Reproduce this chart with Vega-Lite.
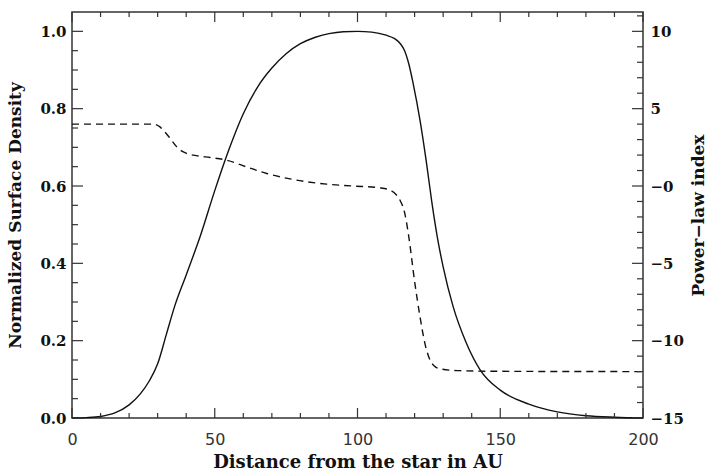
{
  "$schema": "https://vega.github.io/schema/vega-lite/v6.json",
  "width": 571,
  "height": 406,
  "autosize": {"type": "none"},
  "padding": {"left": 72, "top": 12, "right": 63, "bottom": 53},
  "background": "white",
  "config": {
    "view": {"stroke": "#333", "strokeWidth": 1.5},
    "axis": {"domain": false, "grid": false, "ticks": false, "labelFlush": false, "labelOverlap": false, "labelBound": false}
  },
  "datasets": {
    "density": [
      {"x": 0, "d": 0}, {"x": 5, "d": 0.001}, {"x": 10, "d": 0.004}, {"x": 15, "d": 0.013},
      {"x": 20, "d": 0.034}, {"x": 24, "d": 0.063}, {"x": 27, "d": 0.095}, {"x": 30, "d": 0.14},
      {"x": 33, "d": 0.215}, {"x": 36, "d": 0.29}, {"x": 40, "d": 0.37}, {"x": 45, "d": 0.472},
      {"x": 50, "d": 0.588}, {"x": 55, "d": 0.695}, {"x": 60, "d": 0.787}, {"x": 65, "d": 0.856},
      {"x": 70, "d": 0.905}, {"x": 75, "d": 0.942}, {"x": 80, "d": 0.968}, {"x": 85, "d": 0.984},
      {"x": 90, "d": 0.994}, {"x": 95, "d": 0.999}, {"x": 100, "d": 1.0}, {"x": 105, "d": 0.998},
      {"x": 110, "d": 0.99}, {"x": 113, "d": 0.981}, {"x": 115, "d": 0.968}, {"x": 116.5, "d": 0.95},
      {"x": 118, "d": 0.915}, {"x": 119.5, "d": 0.865}, {"x": 121.9, "d": 0.77}, {"x": 124.2, "d": 0.658},
      {"x": 126, "d": 0.56}, {"x": 128, "d": 0.466}, {"x": 130, "d": 0.391}, {"x": 133.5, "d": 0.288},
      {"x": 138, "d": 0.196}, {"x": 143, "d": 0.124}, {"x": 150, "d": 0.072}, {"x": 160, "d": 0.036},
      {"x": 170, "d": 0.016}, {"x": 180, "d": 0.006}, {"x": 190, "d": 0.002}, {"x": 200, "d": 0}
    ],
    "index": [
      {"x": 0, "p": 4.0}, {"x": 28.5, "p": 4.0}, {"x": 30.8, "p": 3.82}, {"x": 32.5, "p": 3.5},
      {"x": 34.3, "p": 3.1}, {"x": 36.7, "p": 2.53}, {"x": 38.5, "p": 2.25}, {"x": 40.2, "p": 2.1},
      {"x": 44, "p": 1.95}, {"x": 48.4, "p": 1.84}, {"x": 54.2, "p": 1.67}, {"x": 61.2, "p": 1.23},
      {"x": 68.2, "p": 0.81}, {"x": 77.5, "p": 0.42}, {"x": 89.2, "p": 0.12}, {"x": 98.5, "p": 0.0},
      {"x": 107.9, "p": -0.12}, {"x": 111.4, "p": -0.27}, {"x": 113.5, "p": -0.55}, {"x": 114.9, "p": -0.92},
      {"x": 116.6, "p": -1.8}, {"x": 117.8, "p": -3.07}, {"x": 120.1, "p": -6.3}, {"x": 121.9, "p": -8.46},
      {"x": 123.6, "p": -10.17}, {"x": 125.4, "p": -11.25}, {"x": 127, "p": -11.65}, {"x": 128.9, "p": -11.82},
      {"x": 135.9, "p": -11.94}, {"x": 150, "p": -11.98}, {"x": 200, "p": -12.0}
    ],
    "xmajor": [{"v": 0}, {"v": 50}, {"v": 100}, {"v": 150}, {"v": 200}],
    "xminor": [{"v": 10}, {"v": 20}, {"v": 30}, {"v": 40}, {"v": 60}, {"v": 70}, {"v": 80}, {"v": 90}, {"v": 110}, {"v": 120}, {"v": 130}, {"v": 140}, {"v": 160}, {"v": 170}, {"v": 180}, {"v": 190}],
    "dmajor": [{"v": 0}, {"v": 0.2}, {"v": 0.4}, {"v": 0.6}, {"v": 0.8}, {"v": 1.0}],
    "dminor": [{"v": 0.05}, {"v": 0.1}, {"v": 0.15}, {"v": 0.25}, {"v": 0.3}, {"v": 0.35}, {"v": 0.45}, {"v": 0.5}, {"v": 0.55}, {"v": 0.65}, {"v": 0.7}, {"v": 0.75}, {"v": 0.85}, {"v": 0.9}, {"v": 0.95}],
    "pmajor": [{"v": -15}, {"v": -10}, {"v": -5}, {"v": 0}, {"v": 5}, {"v": 10}],
    "pminor": [{"v": -14}, {"v": -13}, {"v": -12}, {"v": -11}, {"v": -9}, {"v": -8}, {"v": -7}, {"v": -6}, {"v": -4}, {"v": -3}, {"v": -2}, {"v": -1}, {"v": 1}, {"v": 2}, {"v": 3}, {"v": 4}, {"v": 6}, {"v": 7}, {"v": 8}, {"v": 9}, {"v": 11}]
  },
  "layer": [
    {
      "data": {"name": "density"},
      "mark": {"type": "line", "color": "#111", "strokeWidth": 1.4, "interpolate": "monotone"},
      "encoding": {
        "x": {
          "field": "x", "type": "quantitative",
          "scale": {"domain": [0, 200], "nice": false, "zero": false},
          "axis": {
            "orient": "bottom", "values": [0, 50, 100, 150, 200],
            "labelFont": "DejaVu Sans", "labelFontSize": 16, "labelFontWeight": "normal", "labelColor": "#333", "labelPadding": 13,
            "title": "Distance from the star in AU", "titleFont": "DejaVu Serif", "titleFontSize": 18, "titleFontWeight": "bold", "titleColor": "#111",
            "titleX": 285.5, "titleY": 44, "titleAlign": "center", "titleBaseline": "middle", "titleAngle": 0
          }
        },
        "y": {
          "field": "d", "type": "quantitative",
          "scale": {"domain": [0, 1.05], "nice": false, "zero": false},
          "axis": {
            "orient": "left", "values": [0, 0.2, 0.4, 0.6, 0.8, 1.0], "format": ".1f",
            "labelFont": "DejaVu Serif", "labelFontSize": 15, "labelFontWeight": "bold", "labelColor": "#111", "labelPadding": 6, "labelBaseline": "middle",
            "title": "Normalized Surface Density", "titleFont": "DejaVu Serif", "titleFontSize": 17, "titleFontWeight": "bold", "titleColor": "#111",
            "titleX": -57, "titleY": 203, "titleAngle": -90, "titleAlign": "center", "titleBaseline": "middle"
          }
        }
      }
    },
    {
      "data": {"name": "index"},
      "mark": {"type": "line", "color": "#111", "strokeWidth": 1.4, "strokeDash": [7, 5], "interpolate": "monotone"},
      "encoding": {
        "x": {"field": "x", "type": "quantitative", "scale": {"domain": [0, 200], "nice": false, "zero": false}, "axis": null},
        "y": {
          "field": "p", "type": "quantitative",
          "scale": {"domain": [-15, 11.25], "nice": false, "zero": false},
          "axis": {
            "orient": "right", "values": [-15, -10, -5, 0, 5, 10],
            "labelExpr": "datum.value === 0 ? '−0' : datum.label",
            "labelFont": "DejaVu Serif", "labelFontSize": 15, "labelFontWeight": "bold", "labelColor": "#111", "labelPadding": 7, "labelBaseline": "middle",
            "title": "Power−law index", "titleFont": "DejaVu Serif", "titleFontSize": 17, "titleFontWeight": "bold", "titleColor": "#111",
            "titleX": 55, "titleY": 203, "titleAngle": -90, "titleAlign": "center", "titleBaseline": "middle"
          }
        }
      }
    },
    {
      "data": {"name": "xmajor"},
      "mark": {"type": "rule", "color": "#333", "strokeWidth": 1.2},
      "encoding": {
        "x": {"field": "v", "type": "quantitative", "scale": {"domain": [0, 200], "nice": false, "zero": false}, "axis": null},
        "y": {"datum": 0, "type": "quantitative", "scale": {"domain": [0, 1.05], "nice": false, "zero": false}, "axis": null},
        "y2": {"datum": 0.02586}
      }
    },
    {
      "data": {"name": "xmajor"},
      "mark": {"type": "rule", "color": "#333", "strokeWidth": 1.2},
      "encoding": {
        "x": {"field": "v", "type": "quantitative", "scale": {"domain": [0, 200], "nice": false, "zero": false}, "axis": null},
        "y": {"datum": 1.05, "type": "quantitative", "scale": {"domain": [0, 1.05], "nice": false, "zero": false}, "axis": null},
        "y2": {"datum": 1.02414}
      }
    },
    {
      "data": {"name": "xminor"},
      "mark": {"type": "rule", "color": "#333", "strokeWidth": 1.2},
      "encoding": {
        "x": {"field": "v", "type": "quantitative", "scale": {"domain": [0, 200], "nice": false, "zero": false}, "axis": null},
        "y": {"datum": 0, "type": "quantitative", "scale": {"domain": [0, 1.05], "nice": false, "zero": false}, "axis": null},
        "y2": {"datum": 0.01293}
      }
    },
    {
      "data": {"name": "xminor"},
      "mark": {"type": "rule", "color": "#333", "strokeWidth": 1.2},
      "encoding": {
        "x": {"field": "v", "type": "quantitative", "scale": {"domain": [0, 200], "nice": false, "zero": false}, "axis": null},
        "y": {"datum": 1.05, "type": "quantitative", "scale": {"domain": [0, 1.05], "nice": false, "zero": false}, "axis": null},
        "y2": {"datum": 1.03707}
      }
    },
    {
      "data": {"name": "dmajor"},
      "mark": {"type": "rule", "color": "#333", "strokeWidth": 1.2},
      "encoding": {
        "y": {"field": "v", "type": "quantitative", "scale": {"domain": [0, 1.05], "nice": false, "zero": false}, "axis": null},
        "x": {"datum": 0, "type": "quantitative", "scale": {"domain": [0, 200], "nice": false, "zero": false}, "axis": null},
        "x2": {"datum": 3.853}
      }
    },
    {
      "data": {"name": "dminor"},
      "mark": {"type": "rule", "color": "#333", "strokeWidth": 1.2},
      "encoding": {
        "y": {"field": "v", "type": "quantitative", "scale": {"domain": [0, 1.05], "nice": false, "zero": false}, "axis": null},
        "x": {"datum": 0, "type": "quantitative", "scale": {"domain": [0, 200], "nice": false, "zero": false}, "axis": null},
        "x2": {"datum": 2.102}
      }
    },
    {
      "data": {"name": "pmajor"},
      "mark": {"type": "rule", "color": "#333", "strokeWidth": 1.2},
      "encoding": {
        "y": {"field": "v", "type": "quantitative", "scale": {"domain": [-15, 11.25], "nice": false, "zero": false}, "axis": null},
        "x": {"datum": 200, "type": "quantitative", "scale": {"domain": [0, 200], "nice": false, "zero": false}, "axis": null},
        "x2": {"datum": 196.147}
      }
    },
    {
      "data": {"name": "pminor"},
      "mark": {"type": "rule", "color": "#333", "strokeWidth": 1.2},
      "encoding": {
        "y": {"field": "v", "type": "quantitative", "scale": {"domain": [-15, 11.25], "nice": false, "zero": false}, "axis": null},
        "x": {"datum": 200, "type": "quantitative", "scale": {"domain": [0, 200], "nice": false, "zero": false}, "axis": null},
        "x2": {"datum": 197.898}
      }
    }
  ],
  "resolve": {"scale": {"y": "independent"}, "axis": {"x": "independent", "y": "independent"}}
}
